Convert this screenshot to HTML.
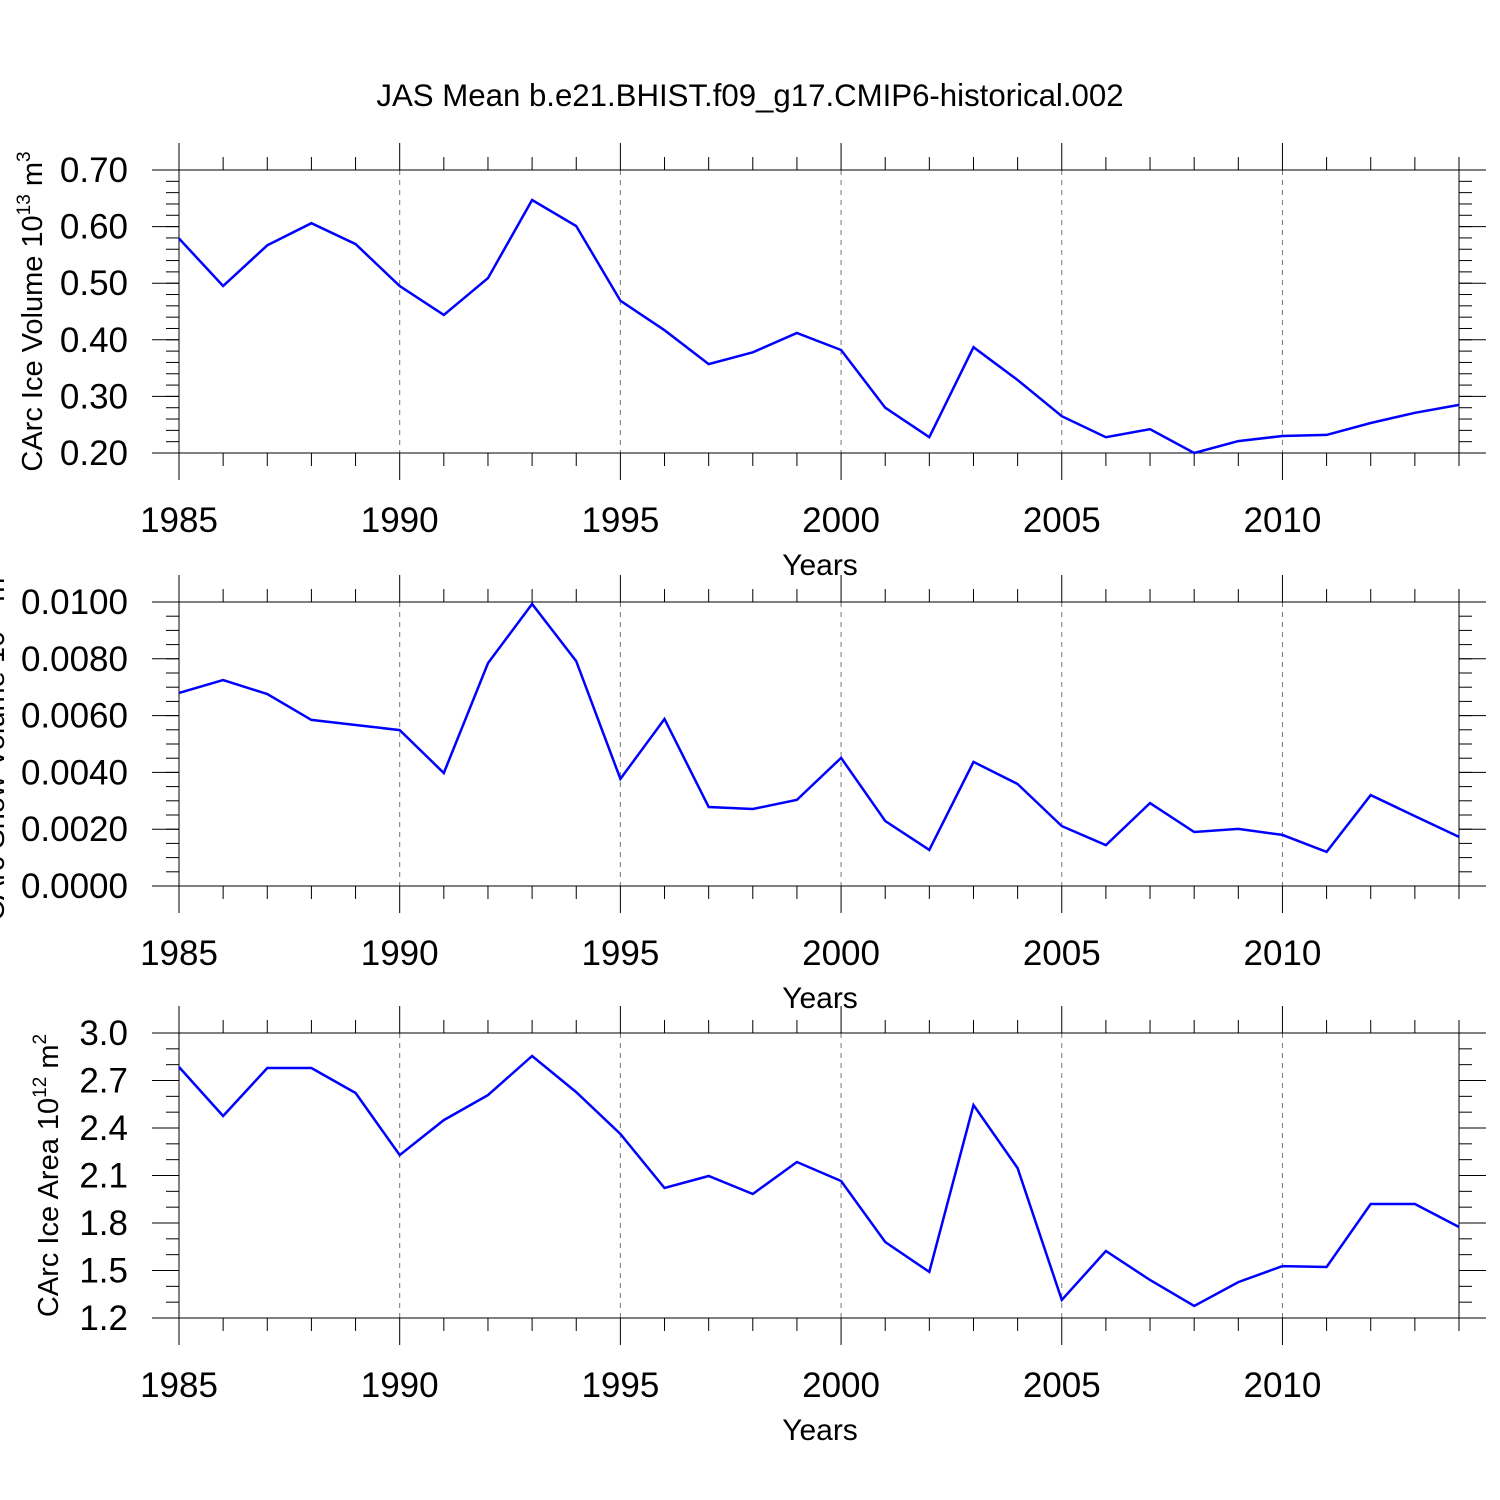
<!DOCTYPE html>
<html><head><meta charset="utf-8"><style>
html,body{margin:0;padding:0;background:#fff;width:1500px;height:1500px;overflow:hidden}
svg{display:block;font-family:"Liberation Sans",sans-serif}
</style></head><body>
<svg id="chart" width="1500" height="1500" viewBox="0 0 1500 1500" xmlns="http://www.w3.org/2000/svg">
<text x="750" y="106" font-size="31.2" text-anchor="middle">JAS Mean b.e21.BHIST.f09_g17.CMIP6-historical.002</text>
</svg>
<script>
const years = [1985,1986,1987,1988,1989,1990,1991,1992,1993,1994,1995,1996,1997,1998,1999,2000,2001,2002,2003,2004,2005,2006,2007,2008,2009,2010,2011,2012,2013,2014];
const iceVolume = [0.579,0.495,0.567,0.606,0.569,0.495,0.444,0.509,0.647,0.601,0.469,0.417,0.357,0.378,0.412,0.382,0.280,0.228,0.387,0.329,0.265,0.228,0.242,0.200,0.221,0.230,0.232,0.253,0.271,0.285];
const snowVolume = [0.00680,0.00725,0.00676,0.00585,0.00567,0.00549,0.00398,0.00785,0.00993,0.00792,0.00377,0.00588,0.00278,0.00271,0.00303,0.00451,0.00229,0.00127,0.00437,0.00359,0.00211,0.00144,0.00292,0.00190,0.00201,0.00180,0.00120,0.00320,0.00246,0.00173];
const iceArea = [2.785,2.476,2.779,2.779,2.621,2.229,2.450,2.608,2.855,2.627,2.362,2.021,2.097,1.983,2.185,2.065,1.680,1.491,2.545,2.147,1.314,1.623,1.440,1.276,1.427,1.528,1.522,1.920,1.920,1.775];
const xTickLabels = ["1985","1990","1995","2000","2005","2010"];
const volTicks = ["0.20","0.30","0.40","0.50","0.60","0.70"];
const snowTicks = ["0.0000","0.0020","0.0040","0.0060","0.0080","0.0100"];
const areaTicks = ["1.2","1.5","1.8","2.1","2.4","2.7","3.0"];

const NS="http://www.w3.org/2000/svg";
const svg=document.getElementById('chart');
const X0=179,X1=1459;
function mk(tag,attrs,parent){const e=document.createElementNS(NS,tag);for(const k in attrs)e.setAttribute(k,attrs[k]);(parent||svg).appendChild(e);return e;}
function xs(yr){return X0+(yr-1985)/(2014-1985)*(X1-X0);}

function panel(key,top,bot,vals,ticks,ymin,ymax,minorStep,ylabel,labelX){
  const g=mk('g',{});
  
  
  const ys=v=>bot-(v-ymin)/(ymax-ymin)*(bot-top);
  for(let yr=1990;yr<=2010;yr+=5){
    const l=mk('line',{x1:xs(yr),x2:xs(yr),y1:top,y2:bot,stroke:'#777','stroke-width':1,'stroke-dasharray':'5,5'},g);
    
    
  }
  for(let yr=1985;yr<=2014;yr++){
    const major=(yr%5===0);const len=major?27:13;
    mk('line',{x1:xs(yr),x2:xs(yr),y1:top-len,y2:top,stroke:'#000','stroke-width':1},g);
    mk('line',{x1:xs(yr),x2:xs(yr),y1:bot,y2:bot+len,stroke:'#000','stroke-width':1},g);
  }
  const n=Math.round((ymax-ymin)/minorStep);
  for(let i=0;i<=n;i++){
    const y=ys(ymin+i*minorStep);
    mk('line',{x1:X0-13,x2:X0,y1:y,y2:y,stroke:'#000','stroke-width':1},g);
    mk('line',{x1:X1,x2:X1+13,y1:y,y2:y,stroke:'#000','stroke-width':1},g);
  }
  ticks.forEach(t=>{
    const y=ys(parseFloat(t));
    mk('line',{x1:X0-27,x2:X0,y1:y,y2:y,stroke:'#000','stroke-width':1},g);
    mk('line',{x1:X1,x2:X1+27,y1:y,y2:y,stroke:'#000','stroke-width':1},g);
    const tx=mk('text',{x:128,y:y+12,'font-size':35,'text-anchor':'end'},g);
    tx.textContent=t;
    
    
  });
  const fr=mk('rect',{x:X0,y:top,width:X1-X0,height:bot-top,fill:'none',stroke:'#000','stroke-width':1},g);
  
  
  xTickLabels.forEach(t=>{
    const tx=mk('text',{x:xs(parseInt(t)),y:bot+79,'font-size':35,'text-anchor':'middle'},g);
    tx.textContent=t;
    
    
  });
  const xt=mk('text',{x:820,y:bot+122,'font-size':30,'text-anchor':'middle'},g);
  xt.textContent='Years';
  
  
  const cy=(top+bot)/2;
  const yl=mk('text',{x:labelX,y:cy,'font-size':29,'text-anchor':'middle',transform:`rotate(-90 ${labelX} ${cy})`},g);
  yl.innerHTML=ylabel;
  
  
  const pts=vals.map((v,i)=>xs(years[i]).toFixed(1)+','+ys(v).toFixed(1)).join(' ');
  const pl=mk('polyline',{points:pts,fill:'none',stroke:'#0000ff','stroke-width':2.5,'stroke-linejoin':'miter'},g);
  
  
}
panel('ice-volume',170,453,iceVolume,volTicks,0.2,0.7,0.02,'CArc Ice Volume 10<tspan font-size="19" dy="-12">13</tspan><tspan dy="12"> m</tspan><tspan font-size="19" dy="-12">3</tspan>',42);
panel('snow-volume',602,886,snowVolume,snowTicks,0,0.01,0.0005,'CArc Snow Volume 10<tspan font-size="19" dy="-12">13</tspan><tspan dy="12"> m</tspan><tspan font-size="19" dy="-12">3</tspan>',4);
panel('ice-area',1033,1318,iceArea,areaTicks,1.2,3.0,0.1,'CArc Ice Area 10<tspan font-size="19" dy="-12">12</tspan><tspan dy="12"> m</tspan><tspan font-size="19" dy="-12">2</tspan>',58);
</script>
</body></html>
